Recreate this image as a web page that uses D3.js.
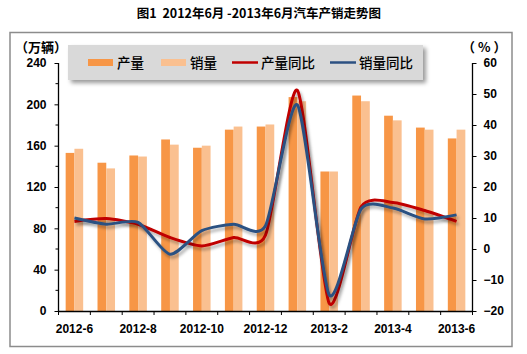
<!DOCTYPE html>
<html>
<head>
<meta charset="utf-8">
<script src="https://cdn.jsdelivr.net/npm/d3@7/dist/d3.min.js"></script>
<style>
  body { margin: 0; background: #fff; }
  svg { display: block; }
  .tick text { font-family: "Liberation Sans", Arial, sans-serif; font-weight: bold; font-size: 12px; fill: #000; }
</style>
</head>
<body>
<svg id="chart" width="527" height="354"></svg>
<script>
// chart data
const months = ['2012-6', '2012-7', '2012-8', '2012-9', '2012-10', '2012-11', '2012-12',
                '2013-1', '2013-2', '2013-3', '2013-4', '2013-5', '2013-6'];
const production = [153, 143.5, 150.5, 166, 158, 175.5, 178.5, 207, 135, 208.5, 189, 177.5, 167];
const sales = [157, 138, 149.5, 161, 160, 178.5, 180.5, 203, 135, 203, 184.5, 175.5, 175.5];
const productionYoY = [8.9, 9.8, 8, 3.7, 1, 3.7, 4.5, 51.2, -17.5, 13.6, 15, 12.4, 8.9];
const salesYoY = [10, 8, 8.6, -1.7, 5.9, 8, 7.5, 46.5, -14.8, 12.9, 13.2, 9.7, 11];
const leftTicks = [0, 40, 80, 120, 160, 200, 240];
const rightTicks = [-20, -10, 0, 10, 20, 30, 40, 50, 60];

const svg = d3.select('#chart');
const cjk = '"Noto Sans CJK SC", sans-serif';

// plot area
const plotLeft = 58.5, plotRight = 472.5, plotTop = 63, plotBottom = 311;

const x = d3.scaleBand().domain(months).range([plotLeft, plotRight]).padding(0);
const yLeft = d3.scaleLinear().domain([0, 240]).range([plotBottom, plotTop]);
const yRight = d3.scaleLinear().domain([-20, 60]).range([plotBottom, plotTop]);

// filters for shadows
const defs = svg.append('defs');
defs.append('filter').attr('id', 'lineShadow')
    .attr('x', '-10%').attr('y', '-10%').attr('width', '120%').attr('height', '130%')
    .append('feDropShadow')
    .attr('dx', 2).attr('dy', 3).attr('stdDeviation', 1.8)
    .attr('flood-color', '#000').attr('flood-opacity', 0.3);
defs.append('filter').attr('id', 'boxShadow')
    .attr('x', '-5%').attr('y', '-20%').attr('width', '115%').attr('height', '160%')
    .append('feDropShadow')
    .attr('dx', 3).attr('dy', 3).attr('stdDeviation', 2)
    .attr('flood-color', '#000').attr('flood-opacity', 0.4);

// title
svg.append('text')
    .attr('x', 259).attr('y', 18)
    .attr('text-anchor', 'middle')
    .style('white-space', 'pre')
    .style('font-family', cjk).style('font-weight', 'bold').style('font-size', '12.5px')
    .text('图1  2012年6月 -2013年6月汽车产销走势图');

// outer frame
svg.append('rect')
    .attr('x', 10).attr('y', 32.5).attr('width', 502).attr('height', 314)
    .attr('fill', 'none').attr('stroke', '#8c8c8c').attr('stroke-width', 1.5);

// bars
const barW = x.bandwidth() * 0.275;
const groups = svg.append('g').selectAll('g')
    .data(months)
    .enter()
    .append('g');

groups.append('rect')
    .attr('x', d => x(d) + x.bandwidth() / 2 - barW)
    .attr('y', (d, i) => yLeft(production[i]))
    .attr('width', barW)
    .attr('height', (d, i) => yLeft(0) - yLeft(production[i]))
    .attr('fill', '#F79646');

groups.append('rect')
    .attr('x', d => x(d) + x.bandwidth() / 2)
    .attr('y', (d, i) => yLeft(sales[i]))
    .attr('width', barW)
    .attr('height', (d, i) => yLeft(0) - yLeft(sales[i]))
    .attr('fill', '#FAC090');

// smooth lines
const line = d3.line()
    .x((d, i) => x(months[i]) + x.bandwidth() / 2)
    .y(d => yRight(d))
    .curve(d3.curveCardinal.tension(0.3));

svg.append('path')
    .attr('d', line(productionYoY))
    .attr('fill', 'none').attr('stroke', '#C00000').attr('stroke-width', 3)
    .attr('filter', 'url(#lineShadow)');

svg.append('path')
    .attr('d', line(salesYoY))
    .attr('fill', 'none').attr('stroke', '#2C5182').attr('stroke-width', 3)
    .attr('filter', 'url(#lineShadow)');

// axes
const leftAxis = svg.append('g')
    .attr('transform', `translate(${plotLeft},0)`)
    .call(d3.axisLeft(yLeft).tickValues(leftTicks).tickSize(4).tickPadding(8));
leftAxis.append('g').selectAll('line')
    .data(d3.range(20, 240, 40))
    .enter().append('line')
    .attr('x1', -3).attr('x2', 0)
    .attr('y1', d => yLeft(d)).attr('y2', d => yLeft(d))
    .attr('stroke', '#000');

const rightAxis = svg.append('g')
    .attr('transform', `translate(${plotRight},0)`)
    .call(d3.axisRight(yRight).tickValues(rightTicks).tickSize(4).tickPadding(7));

const bottomAxis = svg.append('g')
    .attr('transform', `translate(0,${plotBottom})`)
    .call(d3.axisBottom(x).tickSize(0).tickPadding(13)
        .tickFormat((d, i) => i % 2 === 0 ? d : ''));
bottomAxis.append('g').selectAll('line')
    .data(d3.range(months.length + 1))
    .enter().append('line')
    .attr('x1', i => plotLeft + i * x.bandwidth()).attr('x2', i => plotLeft + i * x.bandwidth())
    .attr('y1', 0).attr('y2', 4)
    .attr('stroke', '#000');

[leftAxis, rightAxis, bottomAxis].forEach(a => {
    a.select('.domain').attr('stroke', '#000').attr('stroke-width', 1.3);
    a.selectAll('.tick line').attr('stroke', '#000');
});
leftAxis.select('.domain').attr('d', `M0,${plotTop}V${plotBottom}`);
rightAxis.select('.domain').attr('d', `M0,${plotTop}V${plotBottom}`);

// axis units
svg.append('text')
    .attr('x', 15).attr('y', 52)
    .style('font-family', cjk).style('font-weight', 'bold').style('font-size', '13px')
    .text('（万辆）');
svg.append('text')
    .attr('x', 462).attr('y', 52)
    .style('white-space', 'pre')
    .style('font-family', cjk).style('font-weight', 'bold').style('font-size', '13px')
    .text('（ % ）');

// legend
const legend = svg.append('g');
legend.append('rect')
    .attr('x', 68).attr('y', 45).attr('width', 355).attr('height', 35)
    .attr('fill', '#D9D9D9')
    .attr('filter', 'url(#boxShadow)');

const legendItems = [
    { name: '产量', type: 'bar', color: '#F79646', x: 88 },
    { name: '销量', type: 'bar', color: '#FAC090', x: 161 },
    { name: '产量同比', type: 'line', color: '#C00000', x: 232 },
    { name: '销量同比', type: 'line', color: '#2C5182', x: 330 }
];
legendItems.forEach(d => {
    if (d.type === 'bar') {
        legend.append('rect')
            .attr('x', d.x).attr('y', 59).attr('width', 25).attr('height', 7)
            .attr('fill', d.color);
    } else {
        legend.append('line')
            .attr('x1', d.x).attr('x2', d.x + 26)
            .attr('y1', 62.5).attr('y2', 62.5)
            .attr('stroke', d.color).attr('stroke-width', 2.5);
    }
    legend.append('text')
        .attr('x', d.x + 29).attr('y', 67.5)
        .style('font-family', cjk).style('font-size', '13.5px').style('font-weight', 500).style('fill', '#000')
        .text(d.name);
});
</script>
</body>
</html>
